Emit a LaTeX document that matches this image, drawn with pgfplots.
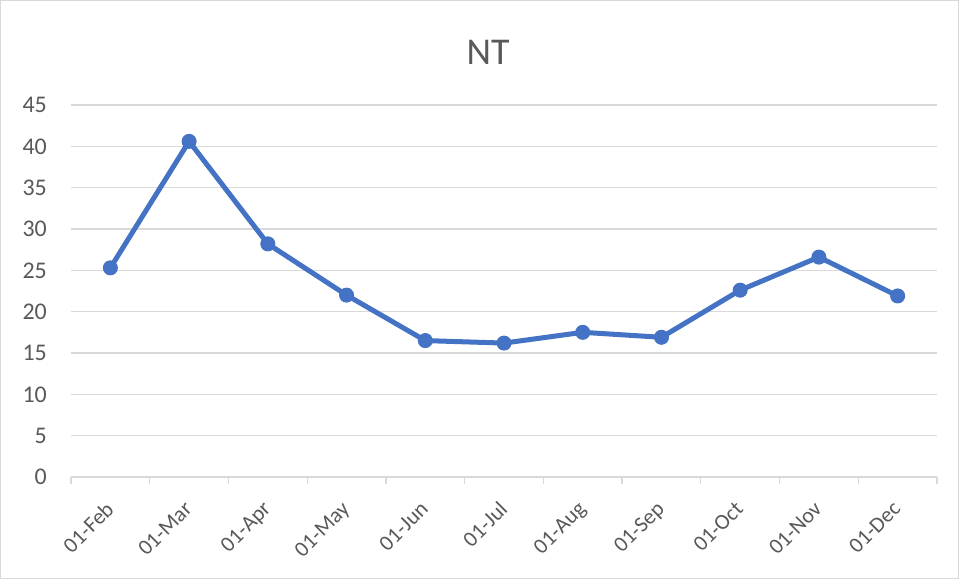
\documentclass[border=0pt]{standalone}
\usepackage{fontspec}
\setmainfont{Carlito}
\usepackage{pgfplots}
\pgfplotsset{compat=1.18}
\definecolor{linec}{HTML}{4472C4}
\definecolor{gridc}{HTML}{D9D9D9}
\definecolor{textc}{HTML}{595959}
\begin{document}
\begin{tikzpicture}[x=1bp,y=1bp]
\useasboundingbox (0,0) rectangle (959,579);
\fill[white] (0,0) rectangle (959,579);
\draw[gridc, line width=1bp] (0.5,0.5) rectangle (958.5,578.5);
\node[text=textc, font=\fontsize{38}{44}\selectfont] at (488,527) {NT};
\begin{axis}[
  at={(71bp,102bp)}, anchor=south west,
  scale only axis, width=866bp, height=372bp,
  xmin=0.5, xmax=11.5, ymin=0, ymax=45,
  ytick={0,5,...,45},
  xtick={1,...,11},
  xticklabels={01-Feb,01-Mar,01-Apr,01-May,01-Jun,01-Jul,01-Aug,01-Sep,01-Oct,01-Nov,01-Dec},
  minor xtick={0.5,1.5,...,11.5},
  major tick length=0pt,
  minor tick length=7bp,
  tick align=outside,
  tick style={gridc, line width=1.3bp},
  ymajorgrids, grid style={gridc, line width=1.3bp},
  axis lines*=left,
  x axis line style={gridc, line width=1.3bp, -},
  y axis line style={draw=none},
  /pgf/number format/assume math mode=true,
  yticklabel style={text=textc, font=\fontsize{24}{28}\selectfont, anchor=east, inner sep=0pt, xshift=-24bp},
  xticklabel style={xshift=-6bp, yshift=-23bp, text=textc, font=\fontsize{22}{26}\selectfont, rotate=45, anchor=north east, inner sep=0pt},
  clip=false,
]
\addplot[color=linec, line width=5bp, mark=*, mark size=7bp, mark options={fill=linec, draw=linec, line width=1bp}]
coordinates {
(1,25.3) (2,40.6) (3,28.2) (4,22.0) (5,16.5) (6,16.2) (7,17.5) (8,16.9) (9,22.6) (10,26.6) (11,21.9)
};
\end{axis}
\end{tikzpicture}
\end{document}
